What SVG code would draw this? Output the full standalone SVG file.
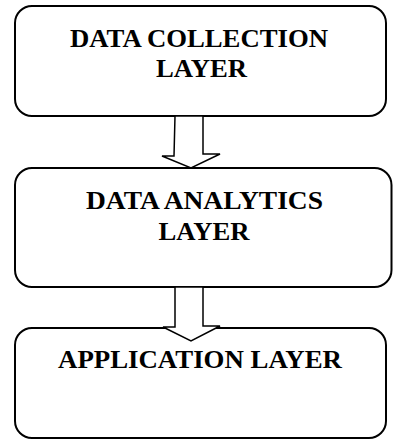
<svg xmlns="http://www.w3.org/2000/svg" width="393" height="439" viewBox="0 0 393 439">
<style>
.box{fill:#fff;stroke:#000;stroke-width:2}
.arrow{fill:#fff;stroke:#000;stroke-width:1.5;stroke-linejoin:miter}
.t{font-family:"Liberation Serif","Times New Roman",serif;font-weight:bold;font-size:26px;fill:#000}
</style>
<rect width="393" height="439" fill="#fff"/>
<g id="node-collection">
<rect class="box" x="15" y="6" width="371" height="110" rx="17" ry="17"/>
<text class="t" x="70" y="47" textLength="258" lengthAdjust="spacingAndGlyphs">DATA COLLECTION</text>
<text class="t" x="156" y="76.5" textLength="91" lengthAdjust="spacingAndGlyphs">LAYER</text>
</g>
<g id="node-analytics">
<rect class="box" x="15" y="168" width="376.5" height="119" rx="17" ry="17"/>
<text class="t" x="86" y="209" textLength="237" lengthAdjust="spacingAndGlyphs">DATA ANALYTICS</text>
<text class="t" x="158.5" y="240" textLength="91" lengthAdjust="spacingAndGlyphs">LAYER</text>
</g>
<g id="node-application">
<rect class="box" x="15" y="328" width="371" height="110" rx="17" ry="17"/>
<text class="t" x="58" y="368" textLength="284" lengthAdjust="spacingAndGlyphs">APPLICATION LAYER</text>
</g>
<g id="connectors">
<polygon class="arrow" points="175,116 203,116 203,154 220,154 191,168 162,156 174,156"/>
<polygon class="arrow" points="175,287 203,287 203,326 220,326 191,341 163,327 175,327"/>
</g>
</svg>
